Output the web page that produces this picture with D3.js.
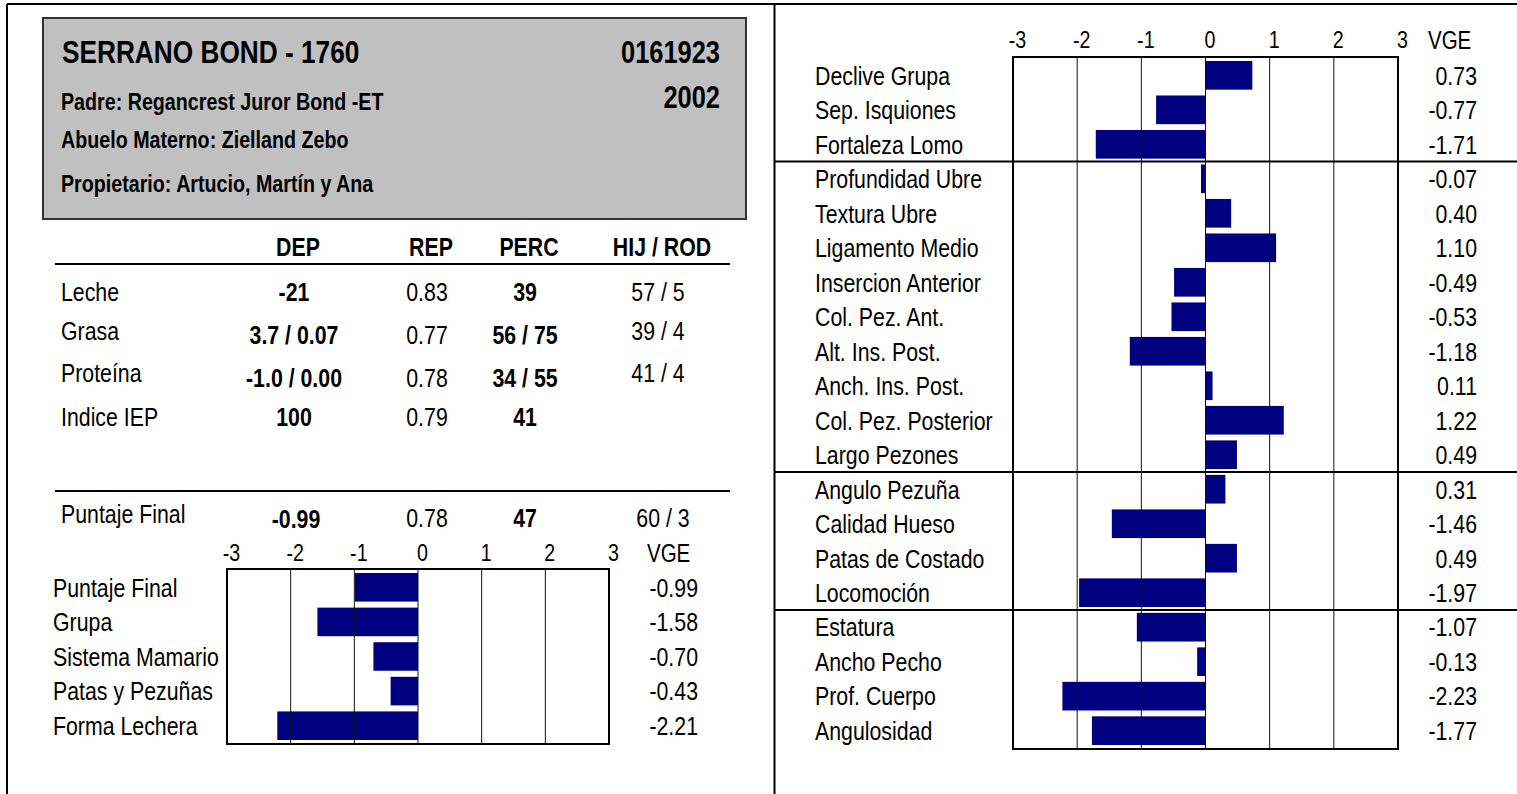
<!DOCTYPE html>
<html>
<head>
<meta charset="utf-8">
<script src="https://cdn.jsdelivr.net/npm/d3@7"></script>
<style>
  html, body { margin: 0; padding: 0; background: #fff; }
  svg { display: block; }
</style>
</head>
<body>
<svg id="chart" width="1517" height="794"></svg>
<script>
// ---------- DATA ----------
const headerTitle = "SERRANO BOND - 1760";
const headerId = "0161923";
const headerYear = "2002";
const headerLines = ["Padre: Regancrest Juror Bond -ET", "Abuelo Materno: Zielland Zebo", "Propietario: Artucio, Martín y Ana"];

const tableCols = ["DEP", "REP", "PERC", "HIJ / ROD"];
const tableRowLabels = ["Leche", "Grasa", "Proteína", "Indice IEP"];
const depValues = ["-21", "3.7 / 0.07", "-1.0 / 0.00", "100"];
const repValues = ["0.83", "0.77", "0.78", "0.79"];
const percValues = ["39", "56 / 75", "34 / 55", "41"];
const hijRodValues = ["57 / 5", "39 / 4", "41 / 4", ""];
const finalRow = ["Puntaje Final", "-0.99", "0.78", "47", "60 / 3"];

const tickValues = [-3, -2, -1, 0, 1, 2, 3];
const vgeLabel = "VGE";

const leftCategories = ["Puntaje Final", "Grupa", "Sistema Mamario", "Patas y Pezuñas", "Forma Lechera"];
const leftValues = [-0.99, -1.58, -0.70, -0.43, -2.21];

const rightCategories = ["Declive Grupa", "Sep. Isquiones", "Fortaleza Lomo", "Profundidad Ubre", "Textura Ubre",
  "Ligamento Medio", "Insercion Anterior", "Col. Pez. Ant.", "Alt. Ins. Post.", "Anch. Ins. Post.",
  "Col. Pez. Posterior", "Largo Pezones", "Angulo Pezuña", "Calidad Hueso", "Patas de Costado",
  "Locomoción", "Estatura", "Ancho Pecho", "Prof. Cuerpo", "Angulosidad"];
const rightValues = [0.73, -0.77, -1.71, -0.07, 0.40, 1.10, -0.49, -0.53, -1.18, 0.11,
  1.22, 0.49, 0.31, -1.46, 0.49, -1.97, -1.07, -0.13, -2.23, -1.77];
const rightGroupStarts = ["Profundidad Ubre", "Angulo Pezuña", "Estatura"];

// ---------- STYLE ----------
// Narrow look: Arial-metric font compressed horizontally (like Arial Narrow)
const FONT = "'Liberation Sans', Arial, sans-serif";
const NARROW = 0.82;
const BAR = "#000080";
const fmt = v => v.toFixed(2);

const svg = d3.select("#chart");
svg.append("rect").attr("width", 1517).attr("height", 794).attr("fill", "#fff");

function text(g, x, y, s, size, opts = {}) {
  return g.append("text")
    .attr("transform", `translate(${x},${y}) scale(${NARROW},1)`)
    .attr("dominant-baseline", "central")
    .attr("text-anchor", opts.anchor || "start")
    .attr("font-family", FONT)
    .attr("font-size", size)
    .attr("font-weight", opts.bold ? "bold" : "normal")
    .attr("fill", "#000")
    .text(s);
}

// ---------- FRAME ----------
const frame = svg.append("g").attr("stroke", "#000").attr("stroke-width", 2);
frame.append("line").attr("x1", 7).attr("y1", 4).attr("x2", 1517).attr("y2", 4);
frame.append("line").attr("x1", 7).attr("y1", 4).attr("x2", 7).attr("y2", 794);
frame.append("line").attr("x1", 774.5).attr("y1", 4).attr("x2", 774.5).attr("y2", 794);

// ---------- HEADER BOX ----------
const hdr = svg.append("g");
hdr.append("rect").attr("x", 43).attr("y", 18).attr("width", 703).attr("height", 201)
  .attr("fill", "#c0c0c0").attr("stroke", "#333").attr("stroke-width", 2);
text(hdr, 62, 52, headerTitle, 32, { bold: true });
text(hdr, 720, 52, headerId, 31, { bold: true, anchor: "end" });
text(hdr, 720, 97, headerYear, 31, { bold: true, anchor: "end" });
const hdrLineY = [102, 140, 184];
headerLines.forEach((s, i) => text(hdr, 61, hdrLineY[i], s, 24, { bold: true }));

// ---------- TABLE ----------
const tbl = svg.append("g");
const colX = [294, 427, 525, 658];
tableCols.forEach((c, i) => text(tbl, colX[i] + 4, 247, c, 26, { bold: true, anchor: "middle" }));
tbl.append("line").attr("x1", 55).attr("x2", 730).attr("y1", 264).attr("y2", 264).attr("stroke", "#000").attr("stroke-width", 2);
const labelY = [292, 331, 373, 417];
const valueY = [292, 335, 378, 417];
tableRowLabels.forEach((s, i) => {
  text(tbl, 61, labelY[i], s, 26);
  text(tbl, colX[0], valueY[i], depValues[i], 26, { bold: true, anchor: "middle" });
  text(tbl, colX[1], valueY[i], repValues[i], 26, { anchor: "middle" });
  text(tbl, colX[2], valueY[i], percValues[i], 26, { bold: true, anchor: "middle" });
  text(tbl, colX[3], labelY[i], hijRodValues[i], 26, { anchor: "middle" });
});
tbl.append("line").attr("x1", 55).attr("x2", 730).attr("y1", 491).attr("y2", 491).attr("stroke", "#000").attr("stroke-width", 2);
text(tbl, 61, 514, finalRow[0], 26);
text(tbl, colX[0] + 2, 519, finalRow[1], 26, { bold: true, anchor: "middle" });
text(tbl, colX[1], 518, finalRow[2], 26, { anchor: "middle" });
text(tbl, colX[2], 518, finalRow[3], 26, { bold: true, anchor: "middle" });
text(tbl, colX[3] + 5, 518, finalRow[4], 26, { anchor: "middle" });

// ---------- BAR CHART helper ----------
function barChart(cfg) {
  const g = svg.append("g");
  const x = d3.scaleLinear().domain([-3, 3]).range([cfg.x0, cfg.x1]);
  const y = d3.scaleBand().domain(cfg.cats).range([cfg.y0, cfg.y1]).paddingInner(cfg.pi).paddingOuter(cfg.po);
  const data = cfg.cats.map((c, i) => ({ c, v: cfg.vals[i] }));

  // bars
  g.selectAll("rect.bar").data(data).join("rect").attr("class", "bar")
    .attr("x", d => x(Math.min(0, d.v)))
    .attr("width", d => Math.abs(x(d.v) - x(0)))
    .attr("y", d => y(d.c))
    .attr("height", y.bandwidth())
    .attr("fill", BAR);

  // grid lines (drawn over bars)
  g.selectAll("line.grid").data(tickValues.slice(1, -1)).join("line").attr("class", "grid")
    .attr("x1", d => x(d)).attr("x2", d => x(d))
    .attr("y1", cfg.y0).attr("y2", cfg.y1)
    .attr("stroke", "#111").attr("stroke-width", 1);

  // frame
  g.append("rect").attr("x", x(-3)).attr("y", cfg.y0)
    .attr("width", x(3) - x(-3)).attr("height", cfg.y1 - cfg.y0)
    .attr("fill", "none").attr("stroke", "#000").attr("stroke-width", 2);

  // tick labels
  const axis = d3.axisTop(x).tickValues(tickValues).tickSize(0).tickFormat(d => String(d));
  const ax = g.append("g").attr("transform", `translate(4,${cfg.tickY})`).call(axis);
  ax.select(".domain").remove();
  ax.selectAll("text").attr("font-family", FONT).attr("font-size", 24).attr("fill", "#000")
    .attr("dy", null).attr("y", 0).attr("dominant-baseline", "alphabetic")
    .attr("transform", `scale(${NARROW},1)`);
  g.append("text").attr("transform", `translate(${cfg.vgeX},${cfg.tickY + 1}) scale(${NARROW},1)`)
    .attr("font-family", FONT).attr("font-size", 25).text(vgeLabel);

  // category labels
  g.selectAll("text.cat").data(data).join("text").attr("class", "cat")
    .attr("transform", d => `translate(${cfg.catX},${y(d.c) + y.bandwidth() / 2}) scale(${NARROW},1)`)
    .attr("dominant-baseline", "central")
    .attr("font-family", FONT).attr("font-size", 26).text(d => d.c);

  // value labels
  g.selectAll("text.val").data(data).join("text").attr("class", "val")
    .attr("transform", d => `translate(${cfg.valX},${y(d.c) + y.bandwidth() / 2}) scale(${NARROW},1)`)
    .attr("text-anchor", "end").attr("dominant-baseline", "central")
    .attr("font-family", FONT).attr("font-size", 26).text(d => fmt(d.v));

  return { g, x, y };
}

barChart({
  cats: leftCategories, vals: leftValues,
  x0: 227, x1: 609, y0: 569, y1: 744, pi: 0.174, po: 0.116,
  tickY: 561, vgeX: 647, catX: 53, valX: 698
});

const right = barChart({
  cats: rightCategories, vals: rightValues,
  x0: 1013, x1: 1398, y0: 57, y1: 749, pi: 0.169, po: 0.116,
  tickY: 48, vgeX: 1428, catX: 815, valX: 1477
});

// group separators on the right panel
const step = right.y.step();
svg.append("g").selectAll("line.sep").data(rightGroupStarts).join("line").attr("class", "sep")
  .attr("x1", 775).attr("x2", 1517)
  .attr("y1", d => right.y(d) - step * 0.169 / 2)
  .attr("y2", d => right.y(d) - step * 0.169 / 2)
  .attr("stroke", "#000").attr("stroke-width", 2);
</script>
</body>
</html>
